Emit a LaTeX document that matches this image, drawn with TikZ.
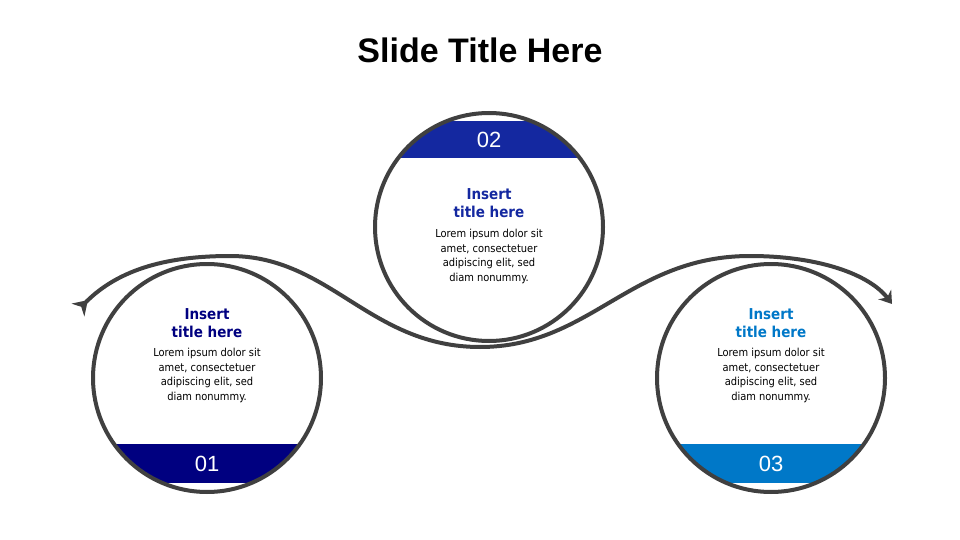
\documentclass[tikz,border=0pt]{standalone}
\usepackage{fontspec}
\setmainfont{Liberation Sans}
\newfontfamily\bodyfont{DejaVu Sans Condensed}
\usetikzlibrary{arrows.meta}
\definecolor{ringgray}{HTML}{404040}
\definecolor{navyA}{HTML}{000080}
\definecolor{navyB}{HTML}{1428A0}
\definecolor{skyC}{HTML}{0078C8}
\tikzset{
  ring/.style={draw=ringgray, line width=4pt},
  head/.style={font=\bodyfont\bfseries\fontsize{15}{18}\selectfont, align=center},
  body/.style={font=\bodyfont\fontsize{11}{14.5}\selectfont, align=center, text=black},
  num/.style={font=\fontsize{22}{24}\selectfont, text=white}
}
\begin{document}
\begin{tikzpicture}[x=1pt, y=-1pt]
  \useasboundingbox[fill=white] (0,0) rectangle (960,540);
  \node (title) at (480,50) {\fontsize{34}{40}\selectfont\bfseries Slide Title Here};

  % bands clipped by the circles
  \begin{scope}
    \clip (207,378) circle (114);
    \fill[navyA] (80,444) rectangle (340,483);
  \end{scope}
  \begin{scope}
    \clip (489,227) circle (114);
    \fill[navyB] (360,121) rectangle (620,158);
  \end{scope}
  \begin{scope}
    \clip (771,378) circle (114);
    \fill[skyC] (640,444) rectangle (900,483);
  \end{scope}

  \node[ring, circle, minimum size=228pt] (c1) at (207,378) {};
  \node[ring, circle, minimum size=228pt] (c2) at (489,227) {};
  \node[ring, circle, minimum size=228pt] (c3) at (771,378) {};

  % wave
  \coordinate (w0) at (78,310);
  \coordinate (w1) at (230,256);
  \coordinate (w2) at (480,347);
  \coordinate (w3) at (750,256);
  \coordinate (w4) at (892,304);
  \draw[ringgray, line width=4pt, {Stealth[reversed,length=14pt,width=18pt]}-{Stealth[length=12pt,width=16pt]}]
    (w0) .. controls (120,268) and (170,256) .. (w1)
         .. controls (330,256) and (370,347) .. (w2)
         .. controls (590,347) and (630,256) .. (w3)
         .. controls (820,256) and (870,275) .. (w4);

  \node[num] (n1) at (207,464) {01};
  \node[num] (n2) at (489,140) {02};
  \node[num] (n3) at (771,464) {03};

  \node[head, text=navyA] (h1) at (207,323) {Insert\\title here};
  \node[head, text=navyB] (h2) at (489,203) {Insert\\title here};
  \node[head, text=skyC] (h3) at (771,323) {Insert\\title here};

  \node[body, anchor=north] (t1) at (207,345) {Lorem ipsum dolor sit\\amet, consectetuer\\adipiscing elit, sed\\diam nonummy.};
  \node[body, anchor=north] (t2) at (489,226) {Lorem ipsum dolor sit\\amet, consectetuer\\adipiscing elit, sed\\diam nonummy.};
  \node[body, anchor=north] (t3) at (771,345) {Lorem ipsum dolor sit\\amet, consectetuer\\adipiscing elit, sed\\diam nonummy.};
\end{tikzpicture}
\end{document}
